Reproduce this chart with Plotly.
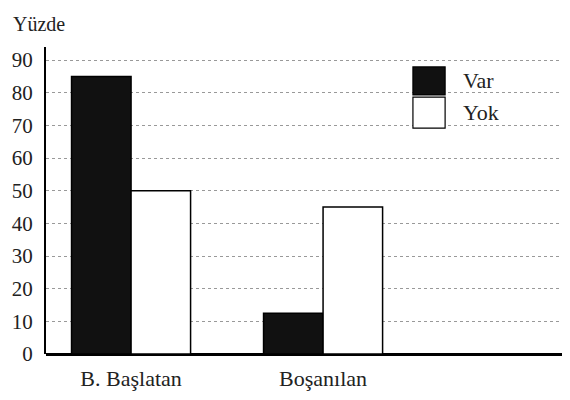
import plotly.graph_objects as go

kategoriler = ['B. Başlatan', 'Boşanılan']
var_degerleri = [85, 12.5]
yok_degerleri = [50, 45]
y_tikler = [0, 10, 20, 30, 40, 50, 60, 70, 80, 90]

font_ailesi = 'Liberation Serif'
yazi_rengi = '#222'

fig = go.Figure()

fig.add_trace(go.Bar(
    x=[0, 1], y=var_degerleri, name='Var',
    marker=dict(color='#111111', line=dict(color='black', width=1.5)),
    showlegend=False,
))
fig.add_trace(go.Bar(
    x=[0, 1], y=yok_degerleri, name='Yok',
    marker=dict(color='white', line=dict(color='black', width=1.5)),
    showlegend=False,
))

# elle cizilmis lejant (kutular referanstaki kadar buyuk)
lejant = [('Var', '#111111', 0.935, 0.844), ('Yok', 'white', 0.837, 0.736)]
for ad, renk, y1, y0 in lejant:
    fig.add_shape(type='rect', xref='paper', yref='paper',
                  x0=0.707, x1=0.769, y0=y0, y1=y1,
                  fillcolor=renk, line=dict(color='black', width=1.2))
    fig.add_annotation(xref='paper', yref='paper', x=0.80, y=(y0 + y1) / 2,
                       text=ad, showarrow=False, xanchor='left', yanchor='middle',
                       font=dict(size=22, color=yazi_rengi, family=font_ailesi))

# eksen basligi, svg ust kenarinin hemen altinda
fig.add_annotation(xref='paper', yref='paper', x=-0.068, y=1.118,
                   text='Yüzde', showarrow=False, xanchor='left', yanchor='top',
                   font=dict(size=20, color=yazi_rengi, family=font_ailesi))

# sayfa govdesinin 8px kenar boslugu icin boyut ve kenarlar kucultuldu
fig.update_layout(
    width=562, height=392,
    margin=dict(l=38, r=5, t=39, b=46, autoexpand=False),
    paper_bgcolor='white', plot_bgcolor='white',
    barmode='group', bargap=0.38, bargroupgap=0,
    font=dict(family=font_ailesi, size=21, color=yazi_rengi),
    xaxis=dict(
        range=[-0.443, 2.26], tickvals=[0, 1], ticktext=kategoriler,
        showgrid=False, zeroline=False, showline=False,
        ticks='', ticklabelstandoff=9,
        tickfont=dict(size=22, family=font_ailesi, color=yazi_rengi),
    ),
    yaxis=dict(
        range=[0, 94], tickvals=y_tikler,
        showgrid=True, gridcolor='#999', griddash='dot', gridwidth=1,
        zeroline=True, zerolinecolor='black', zerolinewidth=3,
        showline=True, linecolor='black', linewidth=2,
        ticks='', ticklabelstandoff=7,
        tickfont=dict(size=21, family=font_ailesi, color=yazi_rengi),
    ),
)

fig.write_html('out.html')
